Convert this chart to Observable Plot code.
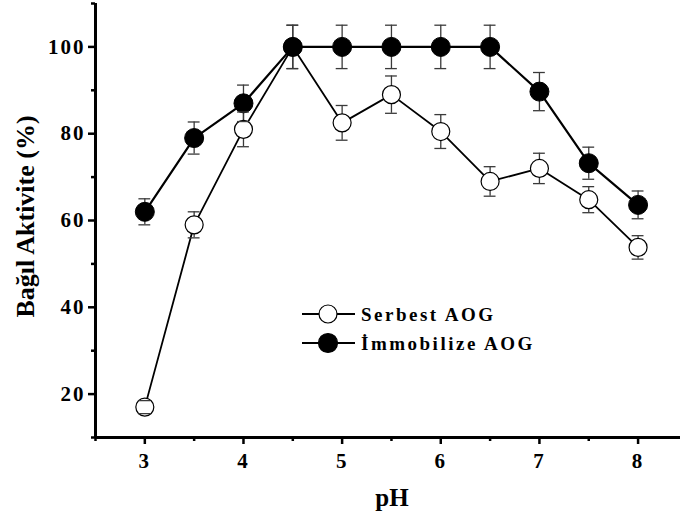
<!DOCTYPE html>
<html><head><meta charset="utf-8">
<script src="https://cdn.jsdelivr.net/npm/d3@7"></script>
<script src="https://cdn.jsdelivr.net/npm/@observablehq/plot@0.6"></script>
<style>
body{margin:0;background:#fff}
#wrap{position:relative;width:680px;height:517px}
#wrap svg text{font-family:"Liberation Serif",serif;font-weight:bold;fill:#000}
g[aria-label="x-axis tick label"] text, g[aria-label="y-axis tick label"] text{letter-spacing:2px}
#legend{position:absolute;left:0;top:0;pointer-events:none}
</style>
</head><body><div id="wrap"></div>
<script>
const pH = [3, 3.5, 4, 4.5, 5, 5.5, 6, 6.5, 7, 7.5, 8];
const serbest = [17, 59, 81, 100, 82.5, 89, 80.5, 69, 72, 64.8, 53.8];
const serbestErr = [1.5, 3, 4, 5, 4, 4.3, 3.9, 3.4, 3.5, 3, 2.7];
const immobilize = [62, 79, 87, 100, 100, 100, 100, 100, 89.7, 73.2, 63.6];
const immobilizeErr = [3, 3.7, 4.2, 5, 5, 5, 5, 5, 4.4, 3.7, 3.2];
const seriesNames = ["Serbest AOG", "İmmobilize AOG"];
const xMajor = [3, 4, 5, 6, 7, 8];
const xMinor = [2.5, 3.5, 4.5, 5.5, 6.5, 7.5];
const yMajor = [20, 40, 60, 80, 100];
const yMinor = [10, 30, 50, 70, 90, 110];
const xLabel = "pH";
const yLabel = "Bağıl Aktivite (%)";

const rowsS = pH.map((p, i) => ({pH: p, value: serbest[i], err: serbestErr[i], series: seriesNames[0]}));
const rowsI = pH.map((p, i) => ({pH: p, value: immobilize[i], err: immobilizeErr[i], series: seriesNames[1]}));
const rows = rowsS.concat(rowsI);
const capHalf = 0.06;
const errStroke = "#3a3a3a";

const chart = Plot.plot({
  width: 680, height: 517,
  marginLeft: 95, marginRight: 0, marginTop: 3, marginBottom: 80,
  style: {fontFamily: "Liberation Serif", fontWeight: "bold", background: "#fff", overflow: "visible"},
  x: {domain: [2.5, 8.43]},
  y: {domain: [10, 110]},
  marks: [
    Plot.line(rowsS, {x: "pH", y: "value", stroke: "#000", strokeWidth: 1.8}),
    Plot.line(rowsI, {x: "pH", y: "value", stroke: "#000", strokeWidth: 2.2}),
    Plot.ruleX(rows, {x: "pH", y1: d => d.value - d.err, y2: d => d.value + d.err, stroke: errStroke, strokeWidth: 1.3}),
    Plot.dot(rowsS, {x: "pH", y: "value", r: 9, fill: "#fff", stroke: "#000", strokeWidth: 1.2}),
    Plot.dot(rowsI, {x: "pH", y: "value", r: 9.5, fill: "#000", stroke: "#000", strokeWidth: 1}),
    Plot.ruleY(rows, {y: d => d.value + d.err, x1: d => d.pH - capHalf, x2: d => d.pH + capHalf, stroke: errStroke, strokeWidth: 1.3}),
    Plot.ruleY(rows, {y: d => d.value - d.err, x1: d => d.pH - capHalf, x2: d => d.pH + capHalf, stroke: errStroke, strokeWidth: 1.3}),
    Plot.ruleY([10], {stroke: "#000", strokeWidth: 3}),
    Plot.ruleX([2.5], {stroke: "#000", strokeWidth: 3}),
    Plot.axisX({ticks: xMajor, tickFormat: d3.format("d"), tickSize: 7, strokeWidth: 2.5, tickPadding: 9, fontSize: 21, fontWeight: "bold", label: null}),
    Plot.axisX({ticks: xMinor, tickSize: 4, strokeWidth: 2.5, tickFormat: () => "", label: null}),
    Plot.axisY({ticks: yMajor, tickFormat: d3.format("d"), tickSize: 7, strokeWidth: 2.5, tickPadding: 3, fontSize: 21, fontWeight: "bold", label: null}),
    Plot.axisY({ticks: yMinor, tickSize: 4, strokeWidth: 2.5, tickFormat: () => "", label: null}),
    Plot.text([yLabel], {frameAnchor: "left", dx: -70, dy: -4, rotate: -90, fontSize: 26, fontWeight: "bold", textAnchor: "middle", lineAnchor: "middle"}),
    Plot.text([xLabel], {frameAnchor: "bottom", dx: 4, dy: 60, fontSize: 25, fontWeight: "bold", textAnchor: "middle", lineAnchor: "middle"})
  ]
});
const wrap = document.getElementById("wrap");
wrap.appendChild(chart);

// legend overlay (inside plot area)
const leg = d3.select(wrap).append("svg").attr("id", "legend").attr("width", 680).attr("height", 517);
const legRows = seriesNames.map((name, i) => ({name, filled: i === 1, y: 314 + i * 29}));
const g = leg.selectAll("g").data(legRows).join("g").attr("transform", d => `translate(0,${d.y})`);
g.append("line").attr("x1", 302).attr("x2", 355).attr("y1", 0).attr("y2", 0).attr("stroke", "#000").attr("stroke-width", 2);
g.append("circle").attr("cx", 328).attr("cy", 0).attr("r", d => d.filled ? 9.5 : 9)
  .attr("fill", d => d.filled ? "#000" : "#fff").attr("stroke", "#000").attr("stroke-width", 1.2);
g.append("text").attr("x", 361).attr("y", 0).attr("dy", "0.35em").attr("font-size", 19)
  .style("letter-spacing", "2.5px").text(d => d.name);
</script>
</body></html>
